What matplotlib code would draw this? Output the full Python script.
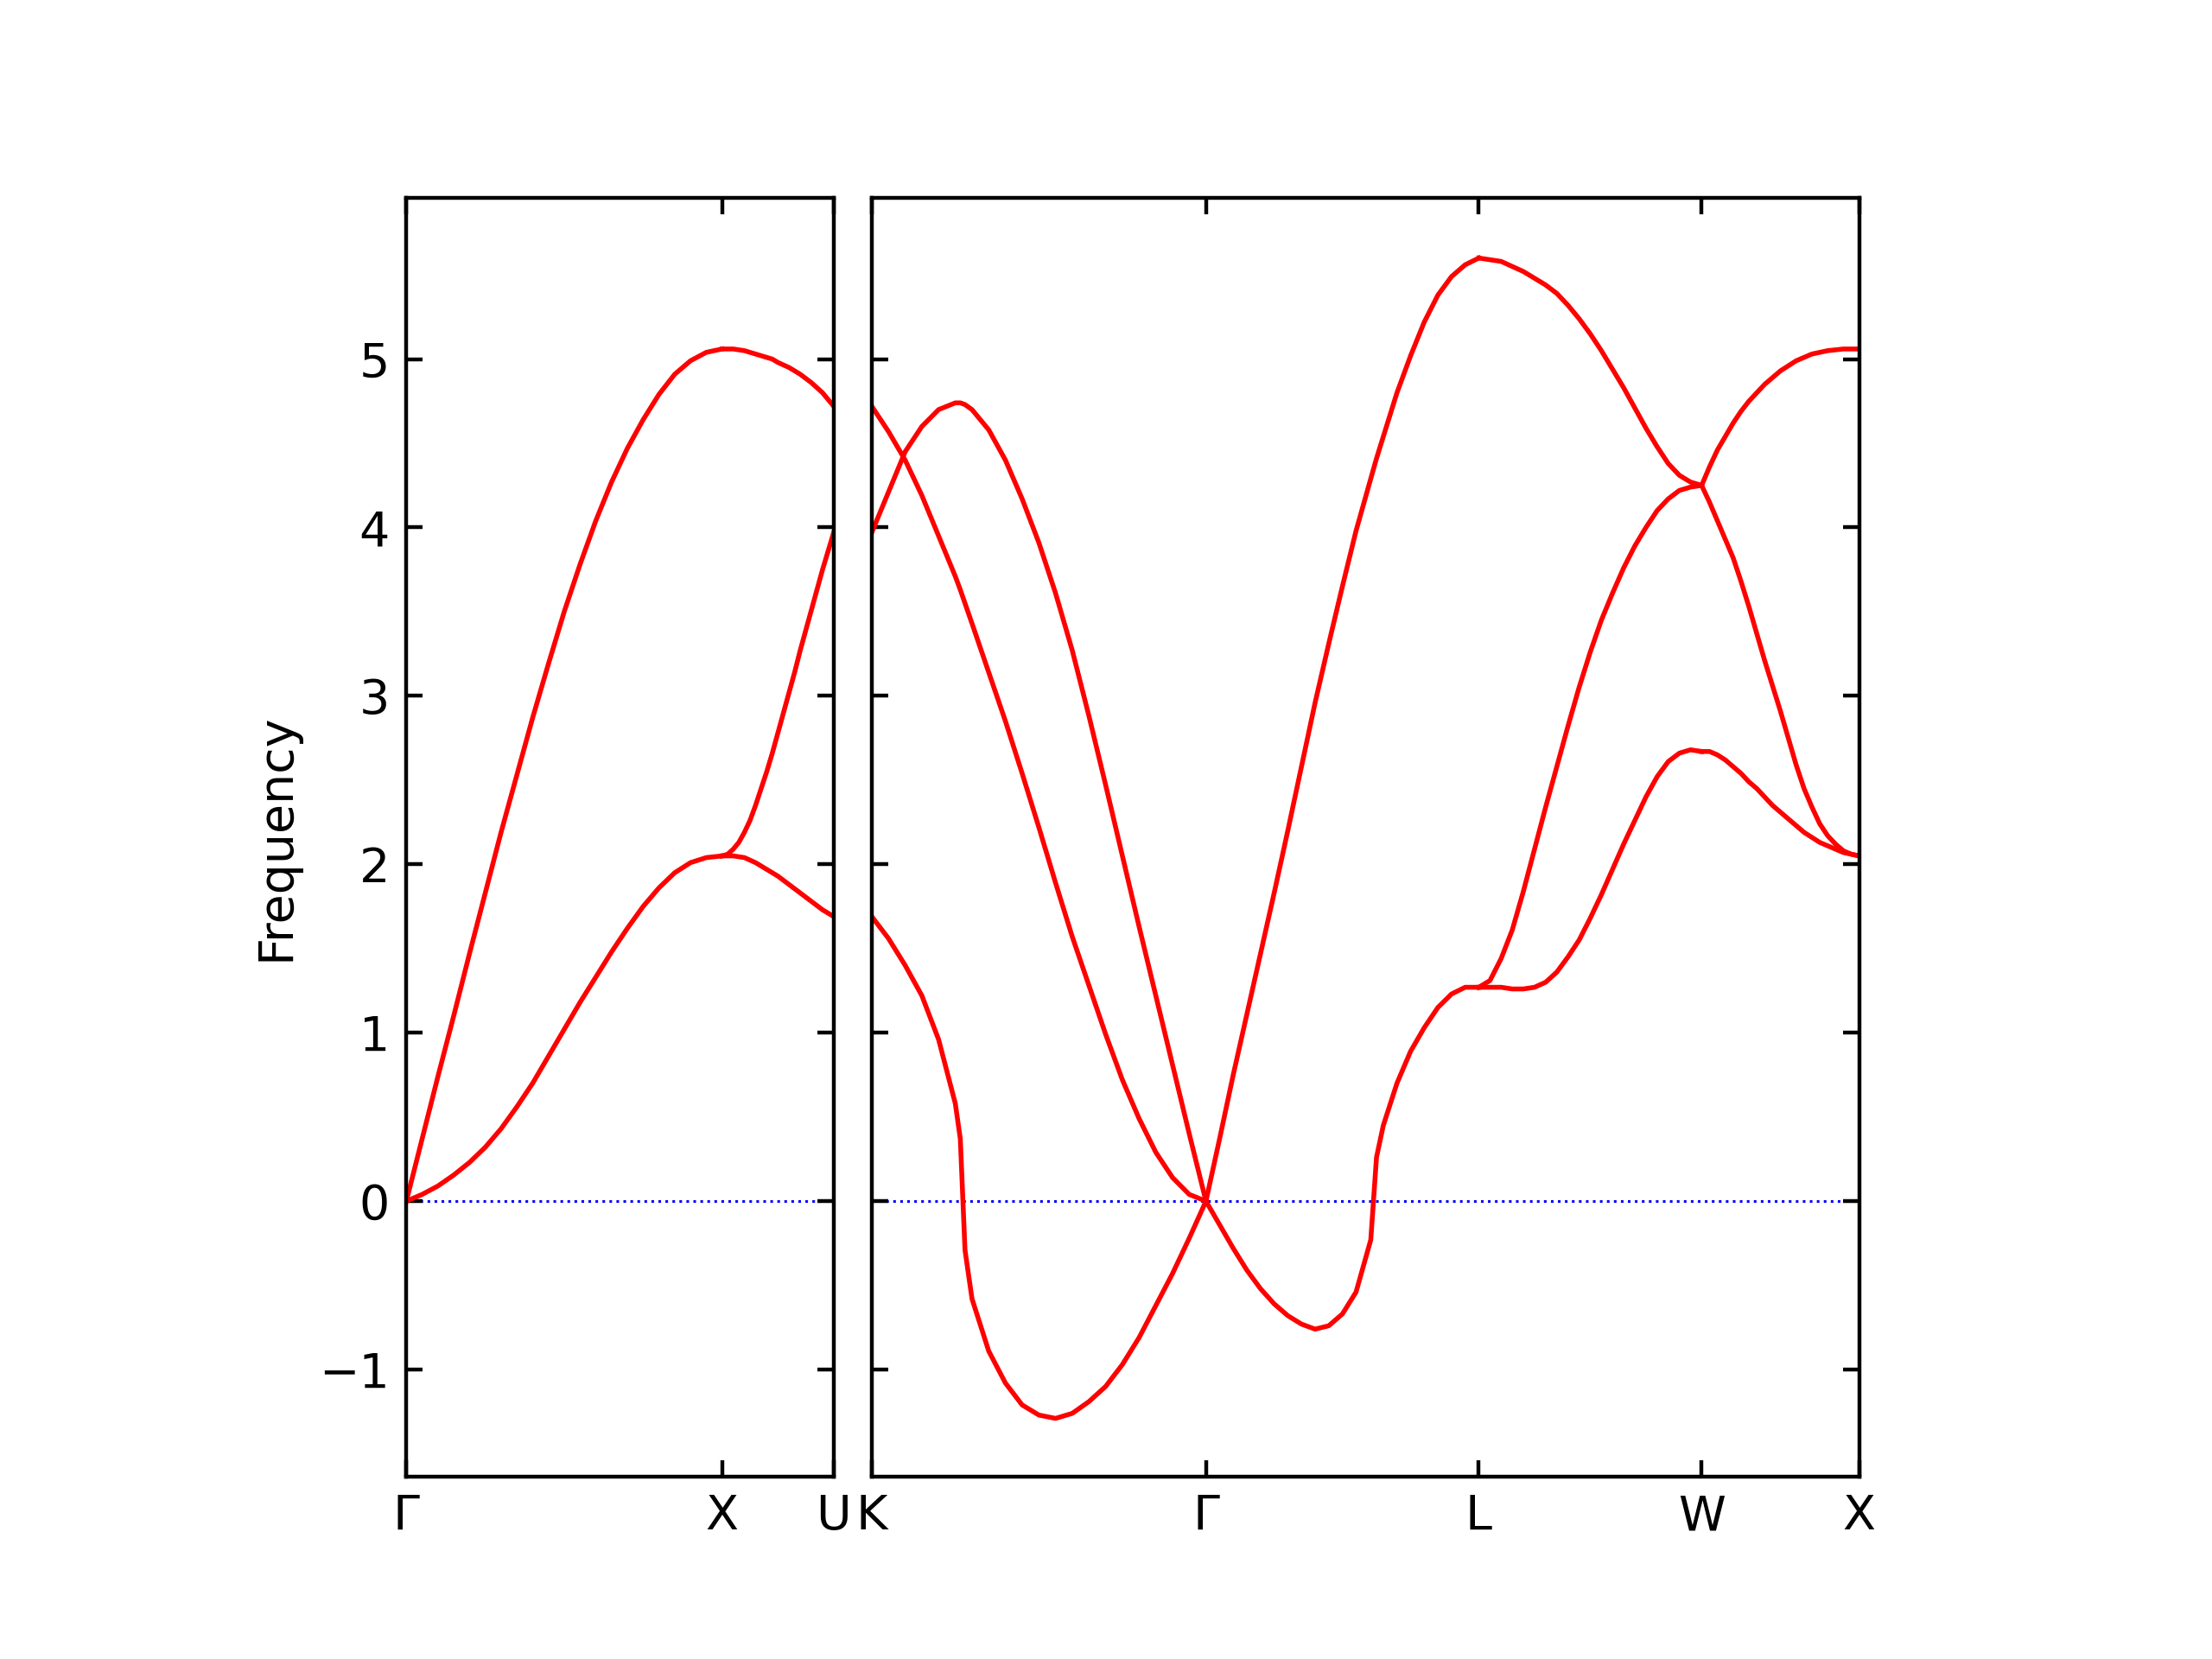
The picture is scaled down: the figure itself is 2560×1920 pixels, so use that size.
import numpy as np
import matplotlib.pyplot as plt

# high-symmetry points along the path (distance in 2pi/a)
d_gamma0, d_x0, d_u = 0.0, 1.0, 1.3536
d_k, d_gamma1, d_l, d_w, d_x1 = 1.3536, 2.4142, 3.2802, 3.9873, 4.4873

left_ticks = [d_gamma0, d_x0, d_u]
left_labels = ['Γ', 'X', 'U']
right_ticks = [d_k, d_gamma1, d_l, d_w, d_x1]
right_labels = ['K', 'Γ', 'L', 'W', 'X']

# Gamma - X  (t = fraction along the segment)
t_gx = [0, .05, .1, .15, .2, .25, .3, .35, .4, .45, .5, .55, .6, .65, .7, .75, .8, .85, .9, .95, 1]
gx_upper = [0, 0.37, 0.74, 1.10, 1.47, 1.83, 2.19, 2.53, 2.87, 3.19, 3.50, 3.78, 4.04, 4.27, 4.47,
            4.64, 4.79, 4.91, 4.99, 5.04, 5.06]
gx_lower = [0, 0.04, 0.09, 0.155, 0.23, 0.32, 0.43, 0.56, 0.70, 0.86, 1.02, 1.18, 1.33, 1.48, 1.62,
            1.75, 1.86, 1.95, 2.01, 2.04, 2.05]

# X - U
t_xu = [0, .05, .1, .15, .2, .25, .3, .35, .4, .45, .5, .55, .6, .65, .7, .75, .8, .85, .9, .95, 1]
xu_top = [5.06, 5.06, 5.06, 5.055, 5.05, 5.04, 5.03, 5.02, 5.01, 5.00, 4.98, 4.965, 4.95, 4.93,
          4.91, 4.885, 4.86, 4.83, 4.80, 4.76, 4.72]
xu_mid = [2.05, 2.06, 2.09, 2.13, 2.19, 2.26, 2.35, 2.45, 2.55, 2.66, 2.78, 2.90, 3.02, 3.14, 3.27,
          3.39, 3.51, 3.63, 3.75, 3.86, 3.97]
xu_low = [2.05, 2.05, 2.05, 2.045, 2.04, 2.025, 2.01, 1.99, 1.97, 1.95, 1.93, 1.905, 1.88, 1.855,
          1.83, 1.805, 1.78, 1.755, 1.73, 1.71, 1.69]

# K - Gamma
t_kg = [0, .05, .1, .15, .2, .25, .265, .279, .3, .35, .4, .45, .5, .55, .6, .65, .7, .75, .8, .85,
        .9, .95, 1]
kg_a = [4.72, 4.57, 4.40, 4.19, 3.95, 3.71, 3.63, 3.55, 3.43, 3.14, 2.85, 2.54, 2.22, 1.89, 1.57,
        1.28, 0.99, 0.72, 0.49, 0.29, 0.14, 0.04, 0]
kg_b = [3.97, 4.21, 4.45, 4.60, 4.70, 4.74, 4.74, 4.73, 4.70, 4.58, 4.40, 4.17, 3.91, 3.61, 3.27,
        2.88, 2.47, 2.05, 1.63, 1.22, 0.81, 0.40, 0]
kg_c = [1.69, 1.56, 1.40, 1.22, 0.96, 0.58, 0.37, -0.29, -0.58, -0.89, -1.08, -1.21, -1.27, -1.29,
        -1.26, -1.19, -1.10, -0.97, -0.81, -0.62, -0.43, -0.22, 0]

# Gamma - L
t_gl = [0, .05, .1, .15, .2, .25, .3, .35, .4, .45, .5, .55, .604, .625, .65, .7, .75, .8, .85, .9,
        .95, 1]
gl_la = [0, 0.37, 0.75, 1.11, 1.47, 1.83, 2.20, 2.58, 2.96, 3.31, 3.65, 3.98, 4.29, 4.41, 4.54,
         4.80, 5.02, 5.22, 5.38, 5.49, 5.56, 5.60]
gl_ta = [0, -0.14, -0.28, -0.41, -0.52, -0.61, -0.68, -0.73, -0.76, -0.74, -0.67, -0.54, -0.23,
         0.26, 0.45, 0.70, 0.89, 1.03, 1.15, 1.23, 1.27, 1.27]

# L - W
t_lw = [0, .05, .1, .15, .2, .25, .3, .35, .4, .45, .5, .55, .6, .65, .7, .75, .8, .85, .9, .95, 1]
lw_top = [5.60, 5.59, 5.58, 5.55, 5.52, 5.48, 5.44, 5.39, 5.32, 5.24, 5.15, 5.05, 4.94, 4.83, 4.71,
          4.59, 4.48, 4.38, 4.31, 4.27, 4.25]
lw_mid = [1.27, 1.31, 1.44, 1.61, 1.84, 2.09, 2.34, 2.58, 2.82, 3.05, 3.26, 3.45, 3.61, 3.76, 3.89,
          4.00, 4.10, 4.17, 4.22, 4.24, 4.25]
lw_low = [1.27, 1.27, 1.27, 1.26, 1.26, 1.27, 1.30, 1.36, 1.45, 1.55, 1.68, 1.82, 1.97, 2.12, 2.26,
          2.40, 2.52, 2.61, 2.66, 2.68, 2.67]

# W - X
t_wx = [0, .05, .1, .15, .2, .25, .3, .35, .4, .45, .5, .55, .6, .65, .7, .75, .8, .85, .9, .95, 1]
wx_top = [4.25, 4.36, 4.46, 4.54, 4.62, 4.69, 4.75, 4.80, 4.85, 4.89, 4.93, 4.96, 4.99, 5.01, 5.03,
          5.04, 5.05, 5.055, 5.06, 5.06, 5.06]
wx_mid = [4.25, 4.15, 4.04, 3.93, 3.82, 3.68, 3.53, 3.37, 3.21, 3.06, 2.91, 2.75, 2.59, 2.45, 2.34,
          2.24, 2.17, 2.12, 2.08, 2.06, 2.05]
wx_low = [2.67, 2.67, 2.65, 2.62, 2.58, 2.54, 2.49, 2.45, 2.40, 2.35, 2.31, 2.27, 2.23, 2.19, 2.16,
          2.13, 2.11, 2.09, 2.07, 2.06, 2.05]

fig = plt.figure(figsize=(6.4, 4.8), dpi=400)
ax1 = fig.add_axes([0.1837, 0.11, 0.1932, 0.7705])
ax2 = fig.add_axes([0.3941, 0.11, 0.4464, 0.7705])

segments = [
    (ax1, d_gamma0, d_x0, t_gx, [gx_upper, gx_lower]),
    (ax1, d_x0, d_u, t_xu, [xu_top, xu_mid, xu_low]),
    (ax2, d_k, d_gamma1, t_kg, [kg_a, kg_b, kg_c]),
    (ax2, d_gamma1, d_l, t_gl, [gl_la, gl_ta]),
    (ax2, d_l, d_w, t_lw, [lw_top, lw_mid, lw_low]),
    (ax2, d_w, d_x1, t_wx, [wx_top, wx_mid, wx_low]),
]

# zero line
for ax, lo, hi in [(ax1, d_gamma0, d_u), (ax2, d_k, d_x1)]:
    ax.plot([lo, hi], [0, 0], color='b', linestyle=':', linewidth=0.55, zorder=1)

for ax, a, b, t, branches in segments:
    x = a + np.array(t) * (b - a)
    for f in branches:
        ax.plot(x, f, color='r', linewidth=1.0, zorder=2)

for ax in (ax1, ax2):
    ax.set_ylim(-1.635, 5.955)
    ax.set_yticks([-1, 0, 1, 2, 3, 4, 5])
    ax.tick_params(direction='in', left=True, right=True, top=True, bottom=True)

ax1.set_xlim(d_gamma0, d_u)
ax1.set_xticks(left_ticks)
ax1.set_xticklabels(left_labels)
ax1.set_ylabel('Frequency')

ax2.set_xlim(d_k, d_x1)
ax2.set_xticks(right_ticks)
ax2.set_xticklabels(right_labels)
ax2.tick_params(labelleft=False)

fig.savefig('out.png', dpi=400)
